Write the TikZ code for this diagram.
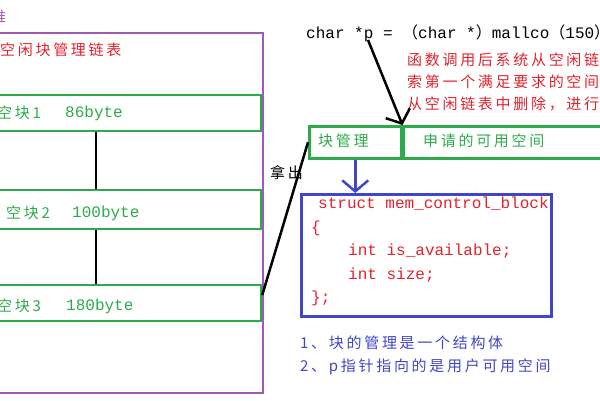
\documentclass[tikz,border=0pt]{standalone}
\usepackage{fontspec}
\setmonofont{Liberation Mono}
\newfontfamily\cjk[LetterSpace=18]{Noto Sans CJK SC}
\newcommand\fwparen[1]{{\cjk\fontsize{16}{18}\selectfont #1}}
\usetikzlibrary{positioning,arrows.meta}
\definecolor{heapc}{RGB}{160,90,180}
\definecolor{blkc}{RGB}{45,170,75}
\definecolor{notec}{RGB}{225,35,45}
\definecolor{structc}{RGB}{65,70,200}

\begin{document}
\begin{tikzpicture}[x=1pt, y=-1pt,
  box/.style={draw, line width=2.5pt, inner sep=0pt},
  txt/.style={anchor=west, inner sep=0pt, font=\cjk\fontsize{15}{18}\selectfont},
  code/.style={anchor=west, inner sep=0pt, font=\ttfamily\fontsize{16}{18}\selectfont},
  link/.style={line width=2.5pt},
  >={Straight Barb[length=11pt,width=26pt]}]
  \useasboundingbox (0,0) rectangle (600,400);
  \clip (0,0) rectangle (600,400);

  % 左边：堆与空闲块链表
  \node[txt, text=heapc] (heaptitle) at (-9,17) {堆};
  \node[box, draw=heapc, minimum width=283pt, minimum height=360pt] (heap) at (121.5,213) {};
  \node[txt, text=notec] (listtitle) at (0,50) {空闲块管理链表};
  \node[box, draw=blkc, minimum width=281pt, minimum height=36pt] (blk1) at (120.5,113) {};
  \node[box, draw=blkc, minimum width=281pt, minimum height=39pt] (blk2) at (120.5,209.5) {};
  \node[box, draw=blkc, minimum width=281pt, minimum height=36pt] (blk3) at (120.5,303) {};
  \node[txt, text=blkc] (name1) at (-3,113) {空块1};
  \node[code, text=blkc] (size1) at (65,113) {86byte};
  \node[txt, text=blkc] (name2) at (6,213) {空块2};
  \node[code, text=blkc] (size2) at (72,213) {100byte};
  \node[txt, text=blkc] (name3) at (-3,306) {空块3};
  \node[code, text=blkc] (size3) at (66,306) {180byte};
  \draw[link] ([xshift=-24.5pt]blk1.south) -- ([xshift=-24.5pt]blk2.north);
  \draw[link] ([xshift=-24.5pt]blk2.south) -- ([xshift=-24.5pt]blk3.north);

  % 右边：malloc 返回的块
  \node[code] (call) at (306,33) {char *p = \fwparen{（}char *\fwparen{）}mallco\fwparen{（}150\fwparen{）};};
  \node[txt, text=notec] (note1) at (407,60) {函数调用后系统从空闲链表中搜};
  \node[txt, text=notec] (note2) at (407,82) {索第一个满足要求的空间块，};
  \node[txt, text=notec] (note3) at (407,104) {从空闲链表中删除，进行分配};
  \node[box, draw=blkc, minimum width=92pt, minimum height=32pt, anchor=north west] (ctl) at (308,125) {};
  \node[box, draw=blkc, minimum width=240pt, minimum height=32pt, anchor=north west] (area) at (ctl.north east) {};
  \node[txt, text=blkc] (ctltext) at (318,141) {块管理};
  \node[txt, text=blkc] (areatext) at (423,141) {申请的可用空间};
  \coordinate (pstart) at (368,40);
  \draw[link, ->] (pstart) -- (ctl.north east);

  \draw[link] ([yshift=8pt]blk3.east) -- (ctl.west);
  \node[txt] (takeout) at (270,173) {拿出};

  \node[box, draw=structc, minimum width=250pt, minimum height=122pt, anchor=north west] (struct) at (300,193) {};
  \draw[link, structc, ->] (ctl.south) -- (ctl.south |- struct.north);
  \node[code, text=notec] (c1) at (318,204) {struct mem\_control\_block};
  \node[code, text=notec] (c2) at (311,228) {\{};
  \node[code, text=notec] (c3) at (348,251) {int is\_available;};
  \node[code, text=notec] (c4) at (348,275) {int size;};
  \node[code, text=notec] (c5) at (311,298) {\};};

  \node[txt, text=structc] (remark1) at (300,343) {1、块的管理是一个结构体};
  \node[txt, text=structc] (remark2) at (300,367) {2、p指针指向的是用户可用空间};
\end{tikzpicture}
\end{document}
